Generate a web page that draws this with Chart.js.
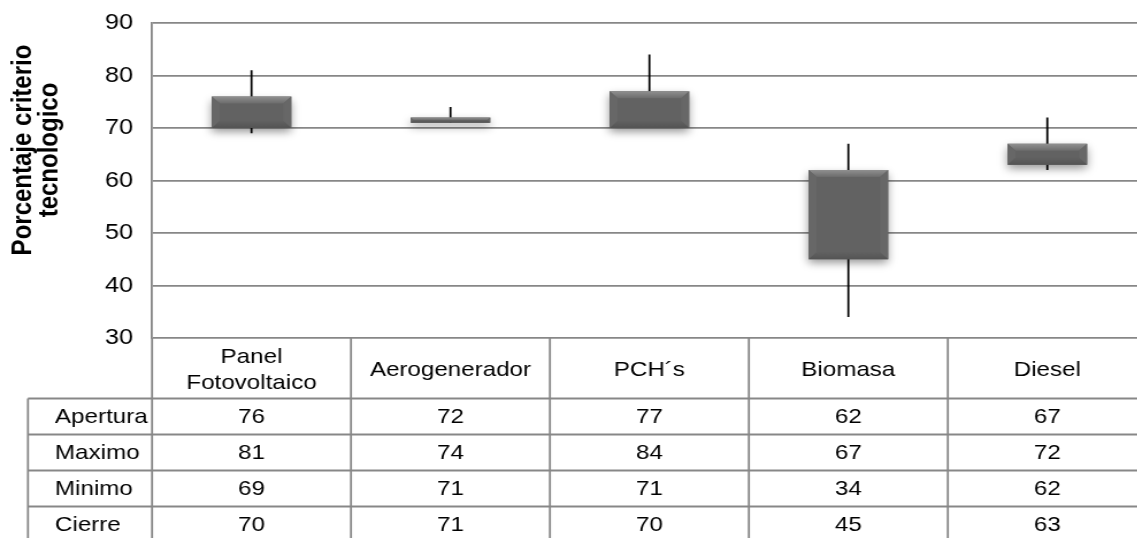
<!DOCTYPE html>
<html>
<head>
<meta charset="utf-8">
<script src="https://cdn.jsdelivr.net/npm/chart.js@4/dist/chart.umd.min.js"></script>
<style>
  html, body { margin: 0; padding: 0; background: #fff; overflow: hidden; width: 1137px; height: 538px; }
  #wrap { width: 1000px; height: 538px; transform: scaleX(1.15); transform-origin: 0 0; }
  canvas { display: block; }
</style>
</head>
<body>
<div id="wrap"><canvas id="c" width="1000" height="538"></canvas></div>
<script>
// Technology categories and OHLC-style percentages
const categories = [['Panel', 'Fotovoltaico'], 'Aerogenerador', 'PCH´s', 'Biomasa', 'Diesel'];
const rowNames = ['Apertura', 'Maximo', 'Minimo', 'Cierre'];
const apertura = [76, 72, 77, 62, 67];
const maximo   = [81, 74, 84, 67, 72];
const minimo   = [69, 71, 71, 34, 62];
const cierre   = [70, 71, 70, 45, 63];
const yTicks = [30, 40, 50, 60, 70, 80, 90];
const axisTitle = ['Porcentaje criterio', 'tecnologico'];

const FONT = '"Liberation Sans", Arial, sans-serif';
const GRID = '#878787';

// Wicks (max to min) drawn behind the bodies, shadows and bevels on the bodies
const candlePlugin = {
  id: 'candles',
  beforeDatasetsDraw(chart) {
    const { ctx, scales: { x, y } } = chart;
    ctx.save();
    ctx.strokeStyle = '#000';
    ctx.lineWidth = 1.75;
    for (let i = 0; i < categories.length; i++) {
      const px = x.getPixelForValue(i);
      ctx.beginPath();
      ctx.moveTo(px, y.getPixelForValue(maximo[i]));
      ctx.lineTo(px, y.getPixelForValue(minimo[i]));
      ctx.stroke();
    }
    ctx.restore();
  },
  beforeDatasetDraw(chart) {
    const ctx = chart.ctx;
    ctx.save();
    ctx.shadowColor = 'rgba(0,0,0,0.4)';
    ctx.shadowBlur = 8;
    ctx.shadowOffsetY = 4;
  },
  afterDatasetDraw(chart) {
    chart.ctx.restore();
  },
  afterDatasetsDraw(chart) {
    const ctx = chart.ctx;
    const meta = chart.getDatasetMeta(0);
    ctx.save();
    ctx.filter = 'blur(0.7px)';
    meta.data.forEach(bar => {
      const L = bar.x - bar.width / 2, R = bar.x + bar.width / 2;
      const T = Math.min(bar.y, bar.base), B = Math.max(bar.y, bar.base);
      const b = Math.min(7, (B - T) / 2, bar.width / 2);
      // top facet
      let g = ctx.createLinearGradient(0, T, 0, T + b);
      g.addColorStop(0, '#909090');
      g.addColorStop(1, '#6c6c6c');
      ctx.fillStyle = g;
      ctx.beginPath();
      ctx.moveTo(L, T); ctx.lineTo(R, T); ctx.lineTo(R - b, T + b); ctx.lineTo(L + b, T + b); ctx.closePath();
      ctx.fill();
      // side facets
      ctx.fillStyle = '#676767';
      ctx.beginPath();
      ctx.moveTo(L, T); ctx.lineTo(L + b, T + b); ctx.lineTo(L + b, B - b); ctx.lineTo(L, B); ctx.closePath();
      ctx.fill();
      ctx.beginPath();
      ctx.moveTo(R, T); ctx.lineTo(R - b, T + b); ctx.lineTo(R - b, B - b); ctx.lineTo(R, B); ctx.closePath();
      ctx.fill();
      // bottom facet
      g = ctx.createLinearGradient(0, B - b, 0, B);
      g.addColorStop(0, '#616161');
      g.addColorStop(1, '#545454');
      ctx.fillStyle = g;
      ctx.beginPath();
      ctx.moveTo(L, B); ctx.lineTo(L + b, B - b); ctx.lineTo(R - b, B - b); ctx.lineTo(R, B); ctx.closePath();
      ctx.fill();
    });
    ctx.restore();
  }
};

// Data table under the plot and the y-axis title
const tablePlugin = {
  id: 'dataTable',
  afterDraw(chart) {
    const { ctx, chartArea: ca, scales: { x } } = chart;
    const n = categories.length;
    const colW = (ca.right - ca.left) / n;
    const headerTop = ca.bottom;
    const headerBottom = 398.5;
    const rowH = 36;
    const rowLeft = 24.3;
    const H = chart.height;

    ctx.save();
    ctx.strokeStyle = GRID;
    ctx.lineWidth = 1.8;
    ctx.beginPath();
    ctx.moveTo(ca.left, headerTop); ctx.lineTo(ca.left, H);
    for (let i = 0; i < n; i++) {
      const xr = x.getPixelForValue(i) + colW / 2;
      ctx.moveTo(xr, headerTop); ctx.lineTo(xr, H);
    }
    for (let r = 0; r <= rowNames.length; r++) {
      const yy = headerBottom + r * rowH;
      ctx.moveTo(rowLeft, yy); ctx.lineTo(ca.right, yy);
    }
    ctx.moveTo(rowLeft, headerBottom); ctx.lineTo(rowLeft, H);
    ctx.stroke();

    ctx.fillStyle = '#000';
    ctx.font = `21px ${FONT}`;
    ctx.textBaseline = 'middle';
    ctx.textAlign = 'center';
    const hc = (headerTop + headerBottom) / 2 + 2;
    categories.forEach((c, i) => {
      const cx = x.getPixelForValue(i);
      const lines = Array.isArray(c) ? c : [c];
      const lh = 26.5;
      lines.forEach((t, k) => {
        ctx.fillText(t, cx, hc + (k - (lines.length - 1) / 2) * lh);
      });
    });
    const rows = [apertura, maximo, minimo, cierre];
    rows.forEach((vals, r) => {
      const cy = headerBottom + r * rowH + rowH / 2 + 1;
      vals.forEach((v, i) => ctx.fillText(String(v), x.getPixelForValue(i), cy));
    });
    ctx.textAlign = 'left';
    rowNames.forEach((name, r) => {
      ctx.fillText(name, 47.8, headerBottom + r * rowH + rowH / 2 + 1);
    });

    ctx.font = `bold 24px ${FONT}`;
    ctx.textAlign = 'center';
    ctx.translate(0, 150);
    ctx.rotate(-Math.PI / 2);
    ctx.fillText(axisTitle[0], 0, 20);
    ctx.fillText(axisTitle[1], 0, 43);
    ctx.restore();
  }
};

new Chart(document.getElementById('c'), {
  type: 'bar',
  data: {
    labels: categories,
    datasets: [{
      data: apertura.map((o, i) => [cierre[i], o]),
      backgroundColor: '#626262',
      borderWidth: 0,
      barPercentage: 0.4,
      categoryPercentage: 1
    }]
  },
  options: {
    responsive: false,
    animation: false,
    devicePixelRatio: 1,
    layout: { padding: { top: 23, bottom: 200, left: 0, right: 2.8 } },
    plugins: { legend: { display: false }, tooltip: { enabled: false } },
    scales: {
      x: { display: false },
      y: {
        min: 30, max: 90,
        afterFit(s) { s.width = 132.2; s.paddingTop = 0; s.paddingBottom = 0; },
        afterBuildTicks(s) { s.ticks = yTicks.map(v => ({ value: v })); },
        ticks: { padding: 16.5, color: '#000', font: { family: FONT, size: 22 } },
        grid: { color: GRID, lineWidth: 1.8, drawTicks: false },
        border: { color: GRID, width: 1.8 }
      }
    }
  },
  plugins: [candlePlugin, tablePlugin]
});
</script>
</body>
</html>
